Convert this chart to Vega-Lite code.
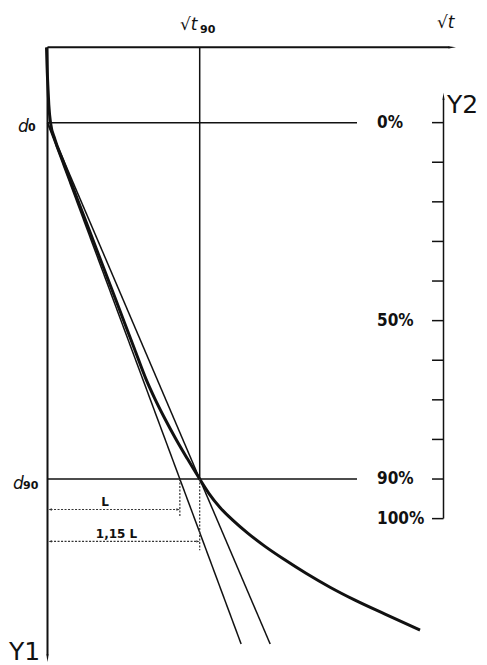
{
  "$schema": "https://vega.github.io/schema/vega-lite/v6.json",
  "width": 487,
  "height": 665,
  "autosize": {"type": "fit", "contains": "padding"},
  "padding": 0,
  "background": "white",
  "config": {"view": {"stroke": null}},
  "datasets": {
    "frame": [
      {"x": 0, "y": -0.1901, "x2": 2.64, "y2": -0.1901},
      {"x": 0, "y": -0.1901, "x2": 0, "y2": 1.345}
    ],
    "guides": [
      {"x": 0, "y": 0, "x2": 2.0335, "y2": 0},
      {"x": 0, "y": 0.9, "x2": 2.0335, "y2": 0.9},
      {"x": 1, "y": -0.1901, "x2": 1, "y2": 0.9},
      {"x": 2.6018, "y": -0.06, "x2": 2.6018, "y2": 1.0}
    ],
    "y2ticks": [
      {"x": 2.5263, "y": 0.0, "x2": 2.6018, "y2": 0.0},
      {"x": 2.5263, "y": 0.1, "x2": 2.6018, "y2": 0.1},
      {"x": 2.5263, "y": 0.2, "x2": 2.6018, "y2": 0.2},
      {"x": 2.5263, "y": 0.3, "x2": 2.6018, "y2": 0.3},
      {"x": 2.5263, "y": 0.4, "x2": 2.6018, "y2": 0.4},
      {"x": 2.5263, "y": 0.5, "x2": 2.6018, "y2": 0.5},
      {"x": 2.5263, "y": 0.6, "x2": 2.6018, "y2": 0.6},
      {"x": 2.5263, "y": 0.7, "x2": 2.6018, "y2": 0.7},
      {"x": 2.5263, "y": 0.8, "x2": 2.6018, "y2": 0.8},
      {"x": 2.5263, "y": 0.9, "x2": 2.6018, "y2": 0.9},
      {"x": 2.5263, "y": 1.0, "x2": 2.6018, "y2": 1.0}
    ],
    "tangents": [
      {"x": 0, "y": 0, "x2": 1.2722, "y2": 1.3167},
      {"x": 0, "y": 0, "x2": 1.463, "y2": 1.3167}
    ],
    "settlement": [
      {"x": -0.0066, "y": -0.1901},
      {"x": -0.0033, "y": -0.146},
      {"x": 0.002, "y": -0.0957},
      {"x": 0.0085, "y": -0.0453},
      {"x": 0.0197, "y": 0},
      {"x": 0.0493, "y": 0.0428},
      {"x": 0.0986, "y": 0.0932},
      {"x": 0.1971, "y": 0.1939},
      {"x": 0.3219, "y": 0.3197},
      {"x": 0.4468, "y": 0.4456},
      {"x": 0.5716, "y": 0.5715},
      {"x": 0.6465, "y": 0.647},
      {"x": 0.7057, "y": 0.6974},
      {"x": 0.7714, "y": 0.7477},
      {"x": 0.8423, "y": 0.7981},
      {"x": 0.9185, "y": 0.8484},
      {"x": 1.0, "y": 0.9},
      {"x": 1.0611, "y": 0.9366},
      {"x": 1.1334, "y": 0.9718},
      {"x": 1.2188, "y": 1.0045},
      {"x": 1.3173, "y": 1.0373},
      {"x": 1.429, "y": 1.07},
      {"x": 1.5539, "y": 1.1027},
      {"x": 1.6984, "y": 1.138},
      {"x": 1.8561, "y": 1.1732},
      {"x": 2.0204, "y": 1.2059},
      {"x": 2.2175, "y": 1.2412},
      {"x": 2.4474, "y": 1.2815}
    ],
    "dims": [
      {"x": 0.8696, "y": 0.9, "x2": 0.8696, "y2": 0.9945},
      {"x": 1, "y": 0.9, "x2": 1, "y2": 1.0801},
      {"x": 0.02, "y": 0.9769, "x2": 0.855, "y2": 0.9769},
      {"x": 0.02, "y": 1.0575, "x2": 0.985, "y2": 1.0575}
    ],
    "dimLeft": [
      {"x": 0.006, "y": 0.9769},
      {"x": 0.006, "y": 1.0575}
    ],
    "dimRight": [
      {"x": 0.8696, "y": 0.9769},
      {"x": 1.0, "y": 1.0575}
    ],
    "percent": [
      {"x": 2.1649, "y": 0.0, "label": "0%"},
      {"x": 2.1649, "y": 0.5, "label": "50%"},
      {"x": 2.1649, "y": 0.9, "label": "90%"},
      {"x": 2.1649, "y": 1.0, "label": "100%"}
    ],
    "symbols": [
      {"x": -0.1938, "y": 0.0227, "label": "d"},
      {"x": -0.2267, "y": 0.924, "label": "d"},
      {"x": 0.8706, "y": -0.2341, "label": "√t"},
      {"x": 2.5592, "y": -0.2392, "label": "√t"}
    ],
    "subscripts": [
      {"x": -0.1281, "y": 0.0201, "label": "0"},
      {"x": -0.161, "y": 0.924, "label": "90"},
      {"x": 1.002, "y": -0.2266, "label": "90"}
    ],
    "dimLabels": [
      {"x": 0.3778, "y": 0.9693, "label": "L"},
      {"x": 0.4534, "y": 1.0498, "label": "1,15 L"}
    ],
    "axisNames": [
      {"x": -0.253, "y": 1.357, "label": "Y1"},
      {"x": 2.6248, "y": -0.0252, "label": "Y2"}
    ]
  },
  "encoding": {
    "x": {"field": "x", "type": "quantitative", "scale": {"domain": [-0.3121, 2.8876], "nice": false, "zero": false}, "axis": null},
    "y": {"field": "y", "type": "quantitative", "scale": {"domain": [-0.3097, 1.3646], "nice": false, "zero": false, "reverse": true}, "axis": null}
  },
  "layer": [
    {
      "data": {"name": "frame"},
      "mark": {"type": "rule", "stroke": "#111", "strokeWidth": 2},
      "encoding": {"x2": {"field": "x2"}, "y2": {"field": "y2"}}
    },
    {
      "data": {"values": [{"x": 2.684, "y": -0.1901}]},
      "mark": {"type": "point", "shape": "M0,0L-2,-0.3L-2,0.3Z", "size": 56, "filled": true, "fill": "#111", "opacity": 1, "strokeWidth": 0}
    },
    {
      "data": {"values": [{"x": 0, "y": 1.362}]},
      "mark": {"type": "point", "shape": "M0,0L-0.3,-2L0.3,-2Z", "size": 56, "filled": true, "fill": "#111", "opacity": 1, "strokeWidth": 0}
    },
    {
      "data": {"values": [{"x": 2.6018, "y": -0.0755}]},
      "mark": {"type": "point", "shape": "M0,0L-0.3,2L0.3,2Z", "size": 49, "filled": true, "fill": "#111", "opacity": 1, "strokeWidth": 0}
    },
    {
      "data": {"name": "guides"},
      "mark": {"type": "rule", "stroke": "#111", "strokeWidth": 1.5},
      "encoding": {"x2": {"field": "x2"}, "y2": {"field": "y2"}}
    },
    {
      "data": {"name": "y2ticks"},
      "mark": {"type": "rule", "stroke": "#111", "strokeWidth": 1.5},
      "encoding": {"x2": {"field": "x2"}, "y2": {"field": "y2"}}
    },
    {
      "data": {"name": "tangents"},
      "mark": {"type": "rule", "stroke": "#111", "strokeWidth": 1.5},
      "encoding": {"x2": {"field": "x2"}, "y2": {"field": "y2"}}
    },
    {
      "data": {"name": "settlement"},
      "mark": {"type": "line", "stroke": "#111", "strokeWidth": 3, "interpolate": "monotone"}
    },
    {
      "data": {"name": "dims"},
      "mark": {"type": "rule", "stroke": "#333", "strokeWidth": 1.2, "strokeDash": [2, 1.5]},
      "encoding": {"x2": {"field": "x2"}, "y2": {"field": "y2"}}
    },
    {
      "data": {"name": "dimLeft"},
      "mark": {"type": "point", "shape": "M0,0L2,-0.7L2,0.7Z", "size": 12, "filled": true, "fill": "#333", "opacity": 1, "strokeWidth": 0}
    },
    {
      "data": {"name": "dimRight"},
      "mark": {"type": "point", "shape": "M0,0L-2,-0.7L-2,0.7Z", "size": 12, "filled": true, "fill": "#333", "opacity": 1, "strokeWidth": 0}
    },
    {
      "data": {"name": "percent"},
      "mark": {"type": "text", "align": "left", "baseline": "middle", "fontSize": 17, "fontWeight": "bold", "font": "Liberation Sans Narrow, DejaVu Sans Condensed, DejaVu Sans", "fill": "#111"},
      "encoding": {"text": {"field": "label"}}
    },
    {
      "data": {"name": "symbols"},
      "mark": {"type": "text", "align": "left", "baseline": "alphabetic", "fontSize": 17, "fontStyle": "italic", "font": "DejaVu Sans", "fill": "#111"},
      "encoding": {"text": {"field": "label"}}
    },
    {
      "data": {"name": "subscripts"},
      "mark": {"type": "text", "align": "left", "baseline": "alphabetic", "fontSize": 11, "fontWeight": "bold", "font": "DejaVu Sans", "fill": "#111"},
      "encoding": {"text": {"field": "label"}}
    },
    {
      "data": {"name": "dimLabels"},
      "mark": {"type": "text", "align": "center", "baseline": "alphabetic", "fontSize": 12, "fontWeight": "bold", "font": "DejaVu Sans", "fill": "#111"},
      "encoding": {"text": {"field": "label"}}
    },
    {
      "data": {"name": "axisNames"},
      "mark": {"type": "text", "align": "left", "baseline": "alphabetic", "fontSize": 25, "font": "DejaVu Sans", "fill": "#111"},
      "encoding": {"text": {"field": "label"}}
    }
  ]
}
